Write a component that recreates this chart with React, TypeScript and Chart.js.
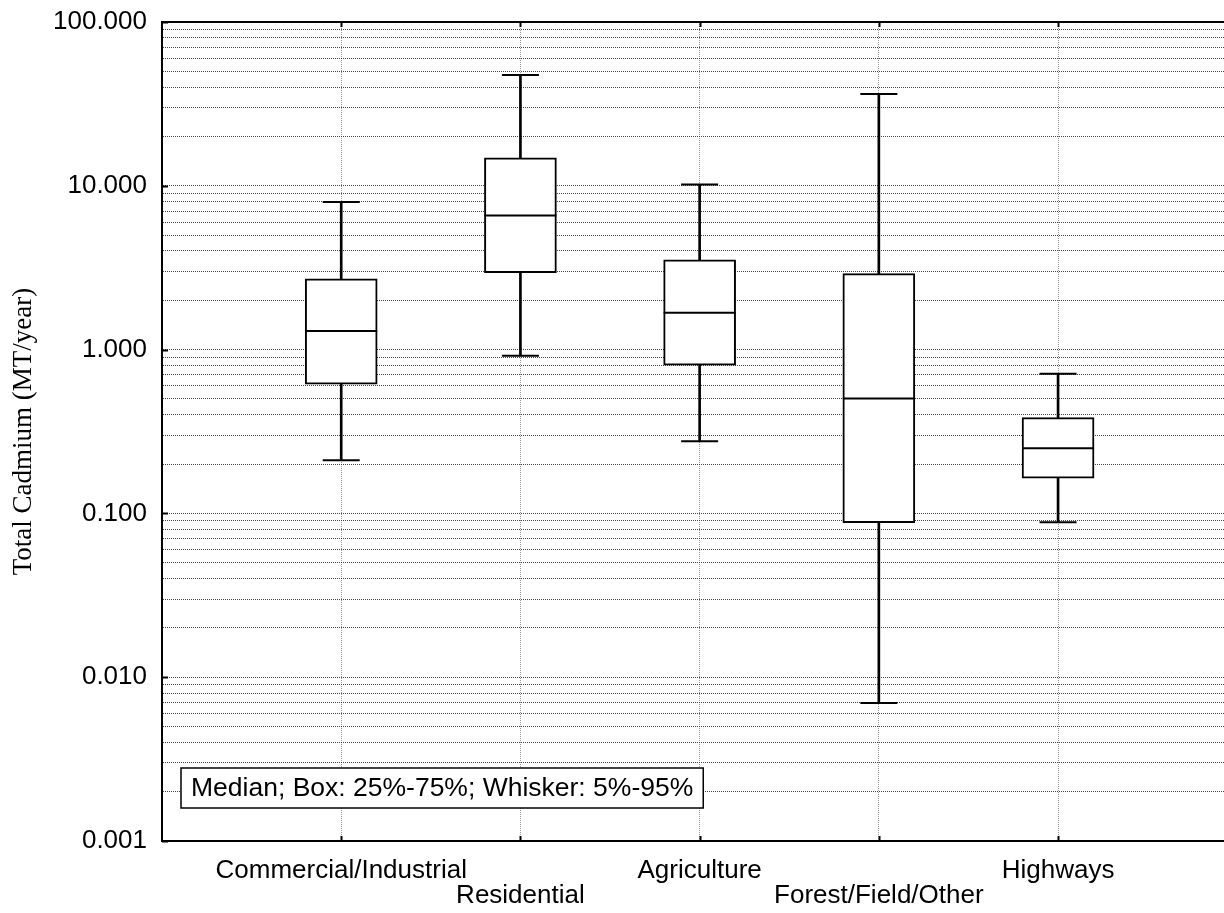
import React, { useEffect, useRef } from "react";
import { Chart, registerables } from "chart.js";

Chart.register(...registerables);

const categories = ["Commercial/Industrial", "Residential", "Agriculture", "Forest/Field/Other", "Highways"];
const whiskerLow = [0.211, 0.916, 0.276, 0.00695, 0.0882];
const boxQ1 = [0.615, 2.95, 0.803, 0.0878, 0.164];
const medians = [1.3, 6.59, 1.68, 0.502, 0.25];
const boxQ3 = [2.7, 14.8, 3.53, 2.91, 0.384];
const whiskerHigh = [7.95, 47.5, 10.2, 36.3, 0.711];

const yMajorTicks = [0.001, 0.01, 0.1, 1, 10, 100];
const yTickLabels = ["0.001", "0.010", "0.100", "1.000", "10.000", "100.000"];
const yMinorMultipliers = [2, 3, 4, 5, 6, 7, 8, 9];

const yTitle = "Total Cadmium (MT/year)";
const noteText = "Median; Box: 25%-75%; Whisker: 5%-95%";

const SANS = "'Liberation Sans', Arial, Helvetica, sans-serif";
const SERIF = "'Liberation Serif', 'Times New Roman', serif";

const framePlugin = {
  id: "frame",
  afterDraw(chart: any) {
    const { ctx, chartArea: a, scales } = chart;
    const x = scales.x;
    const y = scales.y;
    ctx.save();
    ctx.strokeStyle = "#000";
    ctx.lineWidth = 2;
    ctx.beginPath();
    ctx.moveTo(a.left - 1, a.top);
    ctx.lineTo(a.right, a.top);
    ctx.stroke();
    ctx.beginPath();
    x.ticks.forEach((t: any) => {
      const px = Math.round(x.getPixelForValue(t.value)) + 0.5;
      ctx.moveTo(px, a.bottom);
      ctx.lineTo(px, a.bottom - 5);
      ctx.moveTo(px, a.top);
      ctx.lineTo(px, a.top + 5);
    });
    yMajorTicks.forEach((v) => {
      const py = Math.round(y.getPixelForValue(v)) + 0.5;
      ctx.moveTo(a.left, py);
      ctx.lineTo(a.left + 6, py);
    });
    ctx.stroke();

    // note box
    ctx.font = "26.5px " + SANS;
    const tw = ctx.measureText(noteText).width;
    const padX = 10;
    const h = 40;
    const left = a.left + 19;
    const bottom = a.bottom - 33;
    const top = bottom - h;
    ctx.fillStyle = "#fff";
    ctx.fillRect(left, top, tw + padX * 2, h);
    ctx.lineWidth = 1.5;
    ctx.strokeStyle = "#000";
    ctx.strokeRect(left, top, tw + padX * 2, h);
    ctx.fillStyle = "#000";
    ctx.textBaseline = "middle";
    ctx.textAlign = "left";
    ctx.fillText(noteText, left + padX, top + h / 2 + 1);
    ctx.restore();
  },
};

function buildConfig(): any {
  const xs = categories.map((_, i) => i + 1);
  return {
    type: "bar",
    data: {
      datasets: [
        {
          type: "scatter",
          label: "median",
          data: xs.map((x, i) => ({ x, y: medians[i] })),
          pointStyle: "line",
          pointRadius: 36,
          pointBorderWidth: 2,
          pointBorderColor: "#000",
          pointBackgroundColor: "#000",
          order: 0,
        },
        {
          type: "scatter",
          label: "caps",
          data: xs.flatMap((x, i) => [
            { x, y: whiskerLow[i] },
            { x, y: whiskerHigh[i] },
          ]),
          pointStyle: "line",
          pointRadius: 18.5,
          pointBorderWidth: 2,
          pointBorderColor: "#000",
          pointBackgroundColor: "#000",
          order: 0,
        },
        {
          type: "bar",
          label: "box",
          data: xs.map((x, i) => ({ x, y: [boxQ1[i], boxQ3[i]] })),
          backgroundColor: "#fff",
          borderColor: "#000",
          borderWidth: 2,
          borderSkipped: false,
          barThickness: 72,
          grouped: false,
          order: 1,
        },
        {
          type: "bar",
          label: "whisker",
          data: xs.map((x, i) => ({ x, y: [whiskerLow[i], whiskerHigh[i]] })),
          backgroundColor: "#000",
          borderWidth: 0,
          barThickness: 2,
          grouped: false,
          order: 2,
        },
      ],
    },
    options: {
      responsive: false,
      animation: false,
      devicePixelRatio: 1,
      layout: { autoPadding: false, padding: { top: 22, left: 0, right: 0, bottom: 0 } },
      plugins: {
        legend: { display: false },
        tooltip: { enabled: false },
      },
      scales: {
        x: {
          type: "linear",
          offset: false,
          min: 0,
          max: 5.926,
          afterFit(scale: any) {
            scale.height = 72;
          },
          afterBuildTicks(scale: any) {
            scale.ticks = xs.map((v) => ({ value: v }));
          },
          ticks: {
            autoSkip: false,
            maxRotation: 0,
            minRotation: 0,
            padding: 17,
            color: "#000",
            font: { family: SANS, size: 26, lineHeight: 0.96 },
            callback: (value: number, index: number) => {
              const label = categories[index];
              return index % 2 === 1 ? ["", label] : label;
            },
          },
          grid: {
            offset: false,
            color: "#9a9a9a",
            lineWidth: 1,
            drawTicks: false,
          },
          border: { display: true, color: "#000", width: 2, dash: [1, 1] },
        },
        y: {
          type: "logarithmic",
          min: 0.001,
          max: 100,
          afterFit(scale: any) {
            scale.width = 162;
            scale.paddingTop = 0;
            scale.paddingBottom = 0;
          },
          afterBuildTicks(scale: any) {
            const vals: number[] = [];
            yMajorTicks.forEach((m, i) => {
              vals.push(m);
              if (i < yMajorTicks.length - 1) yMinorMultipliers.forEach((k) => vals.push(m * k));
            });
            scale.ticks = vals.map((v) => ({ value: v }));
          },
          ticks: {
            autoSkip: false,
            padding: 15,
            color: "#000",
            font: { family: SANS, size: 26, lineHeight: 0.6 },
            callback: (value: number) => {
              const idx = yMajorTicks.findIndex((m) => Math.abs(m - value) / m < 1e-6);
              return idx >= 0 ? yTickLabels[idx] : "";
            },
          },
          grid: {
            color: "#444",
            lineWidth: 1,
            drawTicks: false,
          },
          border: { display: true, color: "#000", width: 2, dash: [1, 1] },
          title: {
            display: true,
            text: yTitle,
            color: "#000",
            font: { family: SERIF, size: 27 },
            padding: { top: 8, bottom: 0 },
          },
        },
      },
    },
    plugins: [framePlugin],
  };
}

export default function App() {
  const ref = useRef<HTMLCanvasElement | null>(null);
  useEffect(() => {
    if (!ref.current) return;
    const chart = new Chart(ref.current, buildConfig());
    return () => chart.destroy();
  }, []);
  return (
    <div style={{ position: "absolute", left: 0, top: 0, width: 1224, height: 913, background: "#fff" }}>
      <canvas ref={ref} width={1224} height={913} style={{ display: "block" }} />
    </div>
  );
}
